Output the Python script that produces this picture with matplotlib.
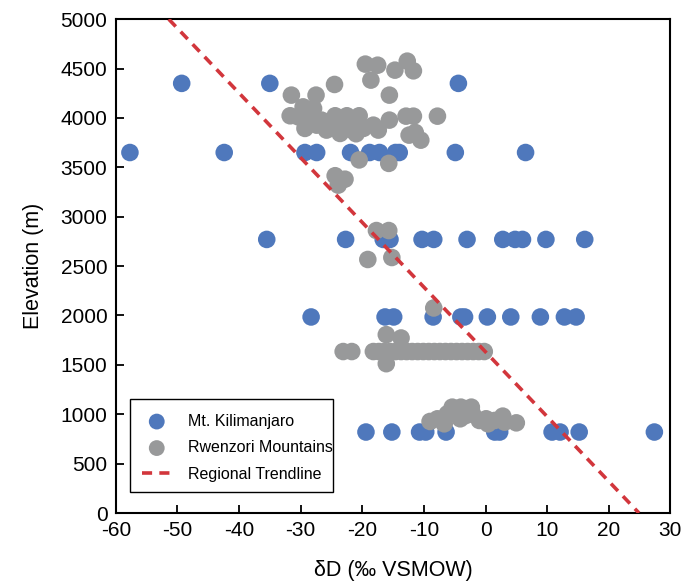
import matplotlib
matplotlib.use('Agg')
import matplotlib.pyplot as plt
from matplotlib.patches import Rectangle

plt.rcParams['font.family'] = ['Liberation Sans', 'DejaVu Sans']
plt.rcParams['axes.unicode_minus'] = False

# %%
# Mt. Kilimanjaro samples (dD permil, elevation m)
kili_dD = [-49.3, -35.0, -4.4,
           -57.7, -42.4, -29.3, -27.4, -21.9, -18.8, -17.2, -14.6, -14.0, -4.9, 6.5,
           -35.5, -22.7, -16.6, -15.5, -10.3, -8.4, -3.0, 2.8, 4.8, 6.0, 9.8, 16.1,
           -28.3, -16.3, -14.9, -8.5, -4.0, -3.4, 0.3, 4.1, 8.9, 12.8, 14.7,
           -19.4, -15.2, -10.7, -9.7, -6.4, 1.5, 2.3, 10.8, 12.1, 15.2, 27.4]
kili_elev = [4350] * 3 + [3650] * 11 + [2770] * 12 + [1985] * 11 + [820] * 11

# %%
# Rwenzori Mountains samples
rwen_dD = [-19.5, -17.5, -12.7, -14.7, -11.7, -18.6, -24.5, -31.5, -27.5, -15.6,
           -7.8, -12.9, -11.7, -12.4, -11.4, -10.5, -15.6, -15.7, -20.5,
           -24.4, -22.8, -23.9,
           -29.6, -27.9, -31.7, -30.4, -28.5, -24.4, -22.5, -20.5, -29.3, -27.4,
           -25.8, -23.6, -21.7, -19.8, -18.2, -17.4, -25.2, -22.8, -20.9, -26.6,
           -28.8, -24.0, -21.0,
           -17.7, -15.7, -19.1, -15.2, -8.4,
           -23.1, -21.7, -18.2, -17.3, -16.4, -15.5, -14.6, -13.7, -12.8, -11.9,
           -11.0, -10.1, -9.2, -8.3, -7.4, -6.5, -5.6, -4.7, -3.8, -2.9, -2.0,
           -1.1, -0.2,
           -16.1, -13.7, -16.1,
           -9.0, -7.8, -6.7, -5.4, -5.1, -4.0, -4.1, -2.3, -2.1, -1.0, 0.1,
           1.5, 2.8, 3.1, 5.0, -3.2, -6.2, 0.4]
rwen_elev = [4545, 4534, 4575, 4484, 4477, 4383, 4339, 4231, 4231, 4231,
             4018, 4018, 4018, 3826, 3853, 3775, 3978, 3540, 3575,
             3415, 3380, 3320,
             4112, 4096, 4022, 4011, 4028, 4022, 4022, 4022, 3894, 3927,
             3877, 3843, 3877, 3894, 3927, 3877, 3961, 3944, 3961, 3978,
             3960, 3900, 3840,
             2860, 2860, 2567, 2587, 2076] + [1635] * 23 + [1806, 1772, 1512,
             927, 954, 903, 1072, 1021, 1072, 954, 1072, 1004, 937, 954,
             937, 981, 920, 913, 987, 1004, 903]

# regional trendline end points
trend_dD = [-51.4, 24.9]
trend_elev = [5000, 0]

# %%
fig = plt.figure(figsize=(6.89, 5.81), dpi=100)
ax = fig.add_axes([0.168, 0.117, 0.805, 0.850])

ax.scatter(kili_dD, kili_elev, s=160, color='#4f78bc', edgecolors='none',
           label='Mt. Kilimanjaro', zorder=2)
ax.scatter(rwen_dD, rwen_elev, s=160, color='#98999a', edgecolors='none',
           label='Rwenzori Mountains', zorder=3)
ax.plot(trend_dD, trend_elev, color='#d2363c', lw=2.6, dashes=(2.8, 2.0),
        label='Regional Trendline', zorder=4)

ax.set_xlim(-60, 30)
ax.set_ylim(0, 5000)
ax.set_xticks(range(-60, 31, 10))
ax.set_yticks(range(0, 5001, 500))
ax.tick_params(direction='in', length=6, width=1.3, labelsize=15, pad=6)
for sp in ax.spines.values():
    sp.set_linewidth(1.5)

ax.set_xlabel('δD (‰ VSMOW)', fontsize=15.5, labelpad=14)
ax.set_ylabel('Elevation (m)', fontsize=15.5, labelpad=12)

# legend entries without frame, box drawn separately
leg = ax.legend(loc='upper left', bbox_to_anchor=(0.048, 0.201),
                borderaxespad=0, borderpad=0, frameon=False, fontsize=11.5,
                markerscale=0.9, handlelength=1.8, handletextpad=1.05,
                labelspacing=0.72)
leg.set_zorder(6)
ax.add_patch(Rectangle((0.0253, 0.0425), 0.366, 0.188, transform=ax.transAxes,
                       facecolor='white', edgecolor='black', lw=1.0, zorder=5))

fig.savefig('out.png', dpi=100)
